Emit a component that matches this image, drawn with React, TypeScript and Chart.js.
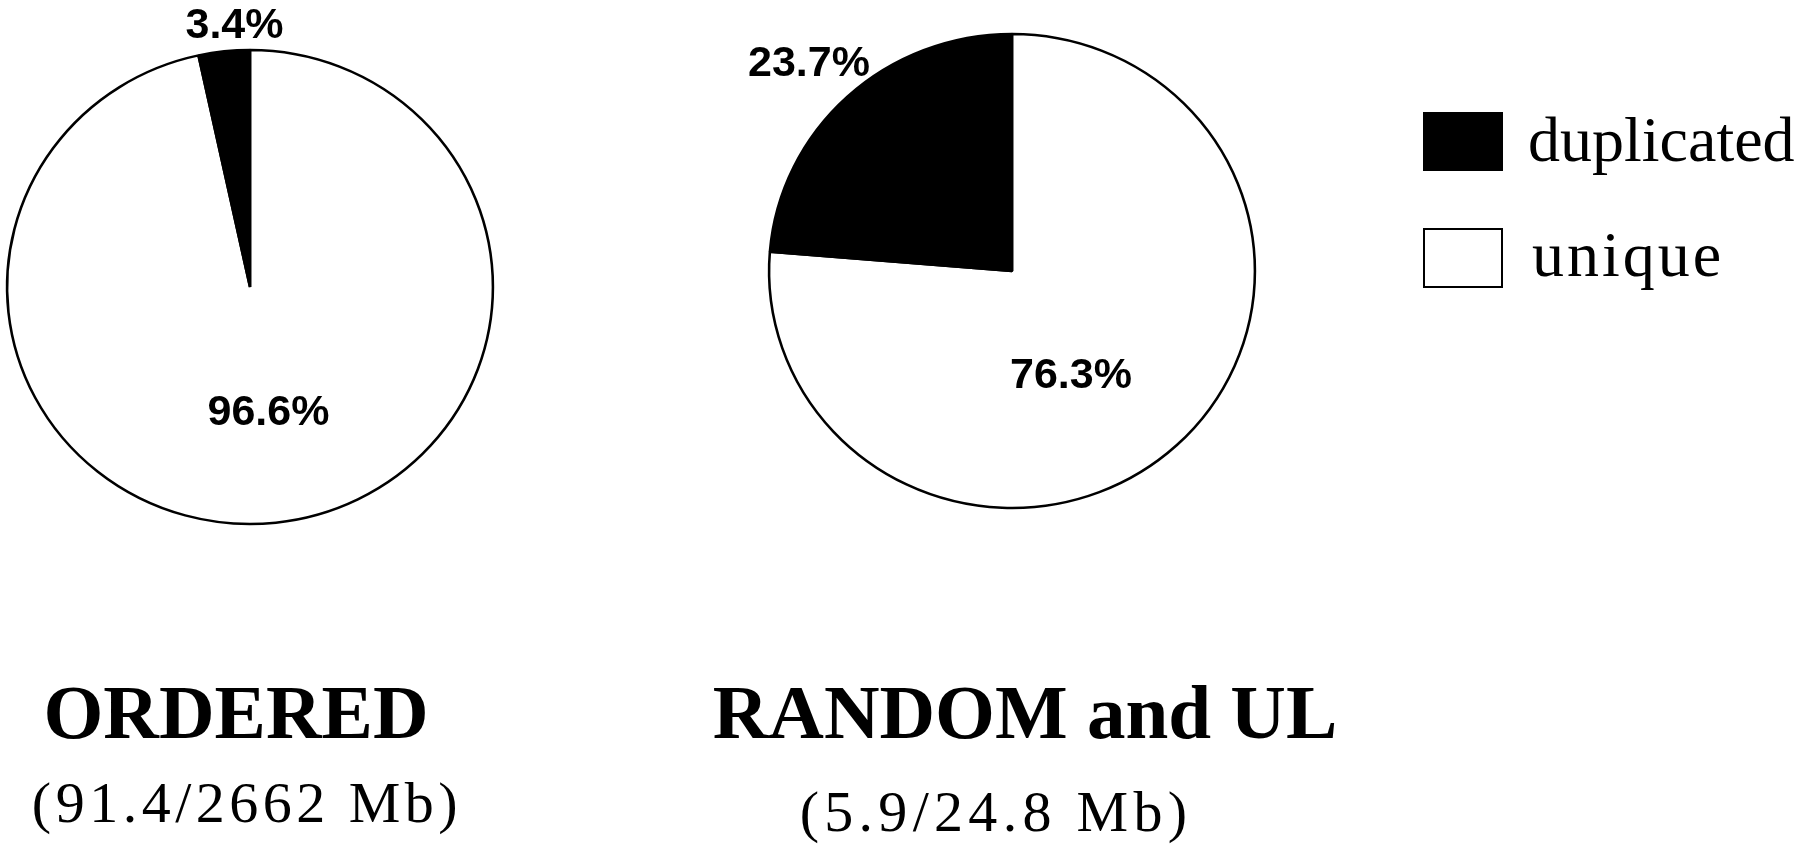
import React, { useEffect, useRef } from 'react';
import { Chart, registerables } from 'chart.js';

Chart.register(...registerables);

// ---- data ----
const categories = ['unique', 'duplicated'];
const orderedValues = [96.6, 3.4];
const randomValues = [76.3, 23.7];
const legendLabels = ['duplicated', 'unique'];
const sliceColors = ['#ffffff', '#000000'];
const panelTitles = ['ORDERED', 'RANDOM and UL'];
const panelSubtitles = ['(91.4/2662 Mb)', '(5.9/24.8 Mb)'];

// ---- layout ----
const CW = 560;
const CH = 600;
const RADIUS = 237;
const STRETCH_X = 1.025;

type PieProps = {
  values: number[];
  cx: number;
  cy: number;
  labelOffsets: [number, number][];
};

function Pie({ values, cx, cy, labelOffsets }: PieProps) {
  const ref = useRef<HTMLCanvasElement | null>(null);
  useEffect(() => {
    if (!ref.current) return;
    const stretchPlugin = {
      id: 'stretch',
      beforeDatasetsDraw(chart: any) {
        const a = chart.chartArea;
        const x = (a.left + a.right) / 2;
        const y = (a.top + a.bottom) / 2;
        const ctx = chart.ctx;
        ctx.save();
        ctx.translate(x, y);
        ctx.scale(STRETCH_X, 1);
        ctx.translate(-x, -y);
      },
      afterDatasetsDraw(chart: any) {
        chart.ctx.restore();
      },
    };
    const labelPlugin = {
      id: 'pctLabels',
      afterDraw(chart: any) {
        const ctx = chart.ctx;
        const arc = chart.getDatasetMeta(0).data[0];
        const x0 = arc.x;
        const y0 = arc.y;
        const data = chart.data.datasets[0].data as number[];
        ctx.save();
        ctx.fillStyle = '#000';
        ctx.font = 'bold 43px "Liberation Sans", Arial, sans-serif';
        ctx.textAlign = 'center';
        ctx.textBaseline = 'alphabetic';
        data.forEach((v, i) => {
          const [dx, dy] = labelOffsets[i];
          ctx.fillText(v.toFixed(1) + '%', x0 + dx, y0 + dy);
        });
        ctx.restore();
      },
    };
    const chart = new Chart(ref.current, {
      type: 'pie',
      data: {
        labels: categories,
        datasets: [
          {
            data: values,
            backgroundColor: sliceColors,
            borderColor: '#000000',
            borderWidth: 2.5,
            hoverOffset: 0,
          },
        ],
      },
      options: {
        responsive: false,
        animation: false,
        radius: RADIUS,
        layout: { padding: 0 },
        events: [],
        plugins: {
          legend: { display: false },
          tooltip: { enabled: false },
          title: { display: false },
        },
      } as any,
      plugins: [stretchPlugin, labelPlugin],
    });
    return () => chart.destroy();
  }, [values, cx, cy, labelOffsets]);
  return (
    <canvas
      ref={ref}
      width={CW}
      height={CH}
      style={{
        position: 'absolute',
        left: cx - CW / 2,
        top: cy - CH / 2,
        width: CW,
        height: CH,
      }}
    />
  );
}

const serif = '"Liberation Serif", "Times New Roman", serif';

function TextAt({
  text,
  x,
  baseline,
  size,
  bold,
  align,
  spacing,
}: {
  text: string;
  x: number;
  baseline: number;
  size: number;
  bold?: boolean;
  align: 'center' | 'left';
  spacing?: number;
}) {
  const top = baseline - 0.8375 * size;
  return (
    <div
      style={{
        position: 'absolute',
        left: x,
        top,
        transform: align === 'center' ? 'translateX(-50%)' : undefined,
        fontFamily: serif,
        fontSize: size,
        fontWeight: bold ? 'bold' : 'normal',
        lineHeight: 1,
        whiteSpace: 'nowrap',
        letterSpacing: spacing ? spacing : 0,
        color: '#000',
      }}
    >
      {text}
    </div>
  );
}

const pie1Offsets: [number, number][] = [
  [18.5, 138],
  [-15.5, -249],
];
const pie2Offsets: [number, number][] = [
  [59, 117],
  [-203, -195],
];

export default function App() {
  return (
    <div
      style={{
        position: 'fixed',
        left: 0,
        top: 0,
        width: 1800,
        height: 854,
        background: '#fff',
        overflow: 'hidden',
      }}
    >
      <Pie values={orderedValues} cx={249.5} cy={287} labelOffsets={pie1Offsets} />
      <Pie values={randomValues} cx={1012} cy={271} labelOffsets={pie2Offsets} />

      <TextAt text={panelTitles[0]} x={236} baseline={738} size={77} bold align="center" />
      <TextAt text={panelSubtitles[0]} x={247} baseline={823} size={58} spacing={4.5} align="center" />
      <TextAt text={panelTitles[1]} x={1025} baseline={738} size={77} bold align="center" />
      <TextAt text={panelSubtitles[1]} x={996} baseline={832} size={58} spacing={5.3} align="center" />

      <div
        style={{
          position: 'absolute',
          left: 1423,
          top: 112,
          width: 80,
          height: 59,
          background: sliceColors[1],
          border: '2px solid #000',
          boxSizing: 'border-box',
        }}
      />
      <div
        style={{
          position: 'absolute',
          left: 1423,
          top: 228,
          width: 80,
          height: 60,
          background: sliceColors[0],
          border: '2px solid #000',
          boxSizing: 'border-box',
        }}
      />
      <TextAt text={legendLabels[0]} x={1528} baseline={162} size={64} align="left" />
      <TextAt text={legendLabels[1]} x={1532} baseline={277} size={64} spacing={3} align="left" />
    </div>
  );
}
